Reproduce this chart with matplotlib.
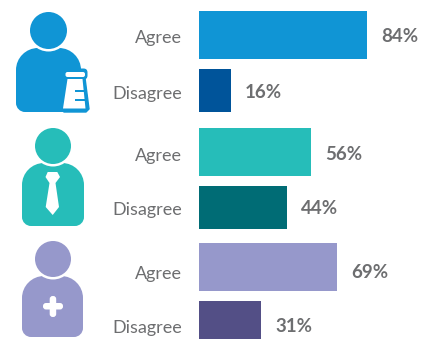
import matplotlib
matplotlib.use("Agg")
import matplotlib.pyplot as plt
from matplotlib.patches import Circle, PathPatch, Polygon, FancyBboxPatch, Rectangle
from matplotlib.path import Path

W, H = 428, 339
GREY = "#6d6e70"

categories = ["Agree", "Disagree", "Agree", "Disagree", "Agree", "Disagree"]
values = [84, 16, 56, 44, 69, 31]
colors = ["#1095d5", "#00549a", "#26bdb9", "#006c75", "#9698cb", "#534f86"]
bar_tops = [11, 69, 128, 186, 243, 301]
bar_heights = [48, 43, 48, 43, 48, 43]
label_y = [36, 92, 154, 208, 272, 326]

plt.rcParams["font.family"] = ["Lato", "DejaVu Sans"]
fig = plt.figure(figsize=(W / 100, H / 100), dpi=100)

# icons live on a full size axes in pixel units
bg = fig.add_axes([0, 0, 1, 1])
bg.set_xlim(0, W)
bg.set_ylim(H, 0)
bg.axis("off")


def body(x0, x1, y0, y1, rt, rb, color):
    k = 0.45
    verts = [(x0 + rt, y0), (x1 - rt, y0),
             (x1 - rt * k, y0), (x1, y0 + rt * k), (x1, y0 + rt),
             (x1, y1 - rb),
             (x1, y1 - rb * k), (x1 - rb * k, y1), (x1 - rb, y1),
             (x0 + rb, y1),
             (x0 + rb * k, y1), (x0, y1 - rb * k), (x0, y1 - rb),
             (x0, y0 + rt),
             (x0, y0 + rt * k), (x0 + rt * k, y0), (x0 + rt, y0)]
    codes = [Path.MOVETO, Path.LINETO,
             Path.CURVE4, Path.CURVE4, Path.CURVE4,
             Path.LINETO,
             Path.CURVE4, Path.CURVE4, Path.CURVE4,
             Path.LINETO,
             Path.CURVE4, Path.CURVE4, Path.CURVE4,
             Path.LINETO,
             Path.CURVE4, Path.CURVE4, Path.CURVE4]
    bg.add_patch(PathPatch(Path(verts, codes), fc=color, ec="none"))


def person(cx, cy, r, x0, x1, y0, y1, color):
    body(x0, x1, y0, y1, 22, 9, color)
    bg.add_patch(Circle((cx, cy), r + 2.5, fc="white", ec="none"))
    bg.add_patch(Circle((cx, cy), r, fc=color, ec="none"))


# scientist with flask
person(48.5, 30.5, 18.5, 16, 81, 48, 112, colors[0])
bg.add_patch(FancyBboxPatch((63, 68.5), 24.5, 11, boxstyle="round,pad=0,rounding_size=4", fc=colors[0], ec="none"))
bg.add_patch(Polygon([(65, 78), (85, 78), (89, 109), (86, 112), (64, 112), (60.5, 109)],
                     fc=colors[0], ec=colors[0], lw=1, joinstyle="round"))
bg.add_patch(FancyBboxPatch((65.5, 72), 19.5, 5, boxstyle="round,pad=0,rounding_size=2", fc="white", ec="none"))
bg.add_patch(Polygon([(67.5, 79), (82.5, 79), (85.5, 108.5), (63, 108.5)], fc="white", ec="none"))
for yy in [91, 100]:
    bg.add_patch(Rectangle((75, yy - 1), 11, 2.2, fc=colors[0], ec="none"))

# businessman with tie
person(53, 146, 18, 22, 84, 163, 226, colors[2])
bg.add_patch(Polygon([(47.7, 172), (57.3, 172), (60, 177), (55.5, 183), (59, 207),
                      (52.7, 215), (45.7, 207), (49.5, 183), (45.5, 177)], fc="white", ec="none"))

# doctor with a cross
person(53, 259, 18, 22, 83, 276, 337, colors[4])
bg.add_patch(FancyBboxPatch((43, 303), 20, 6.5, boxstyle="round,pad=0,rounding_size=3", fc="white", ec="none"))
bg.add_patch(FancyBboxPatch((49.7, 296), 6.5, 21, boxstyle="round,pad=0,rounding_size=3", fc="white", ec="none"))

# bars: x runs 0-100 %, 2 px per percent
ax = fig.add_axes([199 / W, 0, 200 / W, 1])
ax.patch.set_alpha(0)
ax.set_xlim(0, 100)
ax.set_ylim(H, 0)
for s in ax.spines.values():
    s.set_visible(False)

ax.barh(bar_tops, values, height=bar_heights, align="edge", color=colors)
ax.set_xticks([])
ax.set_yticks(label_y)
ax.set_yticklabels(categories, fontsize=13, color=GREY)
ax.tick_params(axis="y", length=0, pad=12.5)

for v, y in zip(values, label_y):
    ax.annotate(f"{v}%", (v, y), xytext=(14, -1), textcoords="offset pixels",
                ha="left", va="center", fontsize=13.5, fontweight="bold",
                color=GREY, annotation_clip=False)

fig.savefig("out.png", dpi=100)
